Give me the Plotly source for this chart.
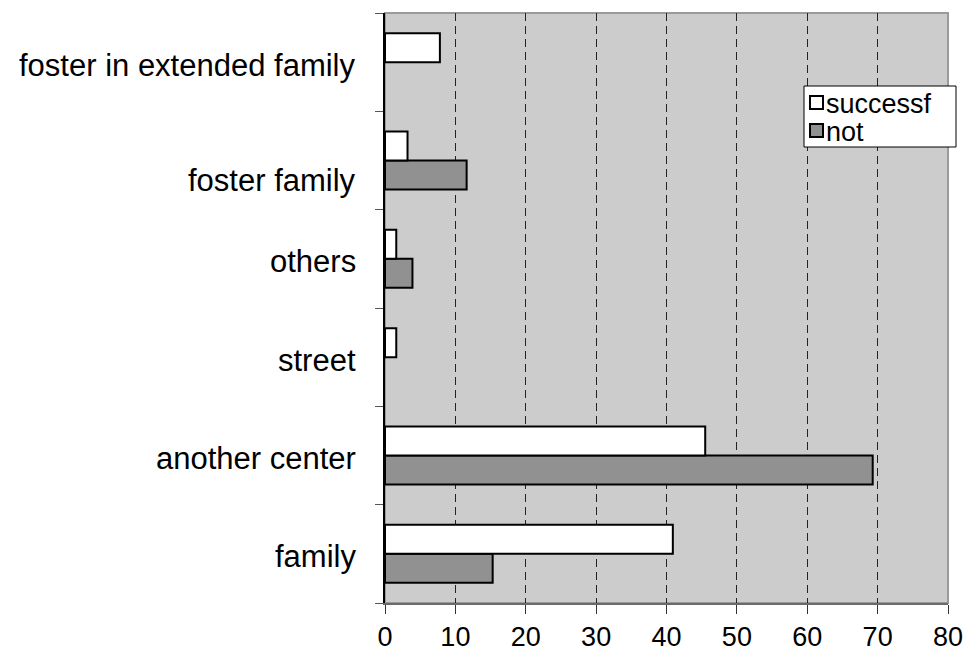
import plotly.graph_objects as go

# Placement categories, listed bottom to top
categories = ["family", "another center", "street", "others",
              "foster family", "foster in extended family"]
successful = [40.9, 45.5, 1.6, 1.6, 3.2, 7.8]
not_successful = [15.3, 69.3, 0.0, 3.9, 11.6, 0.0]
x_ticks = [0, 10, 20, 30, 40, 50, 60, 70, 80]
series_names = ["successf", "not"]
series_colors = ["white", "#919191"]

FONT = "Liberation Sans, Arial, sans-serif"

# plot area in pixels (used to place the legend box in paper units)
W, H = 964, 653
ML, MR, MT, MB = 385, 16, 13, 50
PW, PH = W - ML - MR, H - MT - MB


def px_x(px):
    return (px - ML) / PW


def px_y(py):
    return (H - MB - py) / PH


def nz(vals):
    # empty categories get no bar at all (not even an outline)
    return [v if v > 0 else None for v in vals]


fig = go.Figure()
fig.add_trace(go.Bar(
    y=categories, x=nz(not_successful), name=series_names[1], orientation="h",
    marker=dict(color=series_colors[1], line=dict(color="black", width=2)),
    showlegend=False,
))
fig.add_trace(go.Bar(
    y=categories, x=nz(successful), name=series_names[0], orientation="h",
    marker=dict(color=series_colors[0], line=dict(color="black", width=2)),
    showlegend=False,
))

# category labels drawn as annotations so each can be nudged on its own
label_shift = {"foster family": -20}
for i, cat in enumerate(categories):
    fig.add_annotation(
        x=0, xref="paper", xanchor="right", xshift=-27,
        y=i, yref="y", yanchor="middle", yshift=label_shift.get(cat, -3),
        text=cat, showarrow=False,
        font=dict(family=FONT, size=31, color="black"),
    )

# plot frame (top and right edges)
fig.add_shape(type="rect", xref="paper", yref="paper", x0=0, x1=1, y0=0, y1=1,
              line=dict(color="#9a9a9a", width=2), layer="below")

# legend box
fig.add_shape(type="rect", xref="paper", yref="paper",
              x0=px_x(804), x1=px_x(956), y0=px_y(147), y1=px_y(86),
              fillcolor="white", line=dict(color="black", width=1), layer="above")
for k, (name, color) in enumerate(zip(series_names, series_colors)):
    top = 96 + 28 * k
    fig.add_shape(type="rect", xref="paper", yref="paper",
                  x0=px_x(810), x1=px_x(823), y0=px_y(top + 13), y1=px_y(top),
                  fillcolor=color, line=dict(color="black", width=2), layer="above")
    fig.add_annotation(
        x=px_x(824), xref="paper", xanchor="left",
        y=px_y(top + 7), yref="paper", yanchor="middle", yshift=-1,
        text=name, showarrow=False,
        font=dict(family=FONT, size=27, color="black"),
    )

fig.update_layout(
    width=W, height=H,
    margin=dict(l=ML, r=MR, t=MT, b=MB),
    paper_bgcolor="white",
    plot_bgcolor="#cccccc",
    barmode="group",
    bargap=0.41,
    bargroupgap=0,
    font=dict(family=FONT, size=27, color="black"),
    showlegend=False,
    xaxis=dict(
        range=[0, 80], tickvals=x_ticks, ticks="outside", ticklen=9,
        tickcolor="#333", tickwidth=1,
        showgrid=True, gridcolor="#222", gridwidth=1, griddash="8px,5px",
        showline=True, linecolor="#6a6a6a", linewidth=2,
        zeroline=False, automargin=False,
        tickfont=dict(family=FONT, size=27, color="black"),
    ),
    yaxis=dict(
        type="category", categoryorder="array", categoryarray=categories,
        range=[-0.5, 5.5], tickson="boundaries", ticks="outside", ticklen=8,
        tickcolor="#555", tickwidth=1, showticklabels=False,
        showgrid=False, showline=True, linecolor="black", linewidth=2,
        zeroline=False, automargin=False,
    ),
)

fig.write_html("out.html")
